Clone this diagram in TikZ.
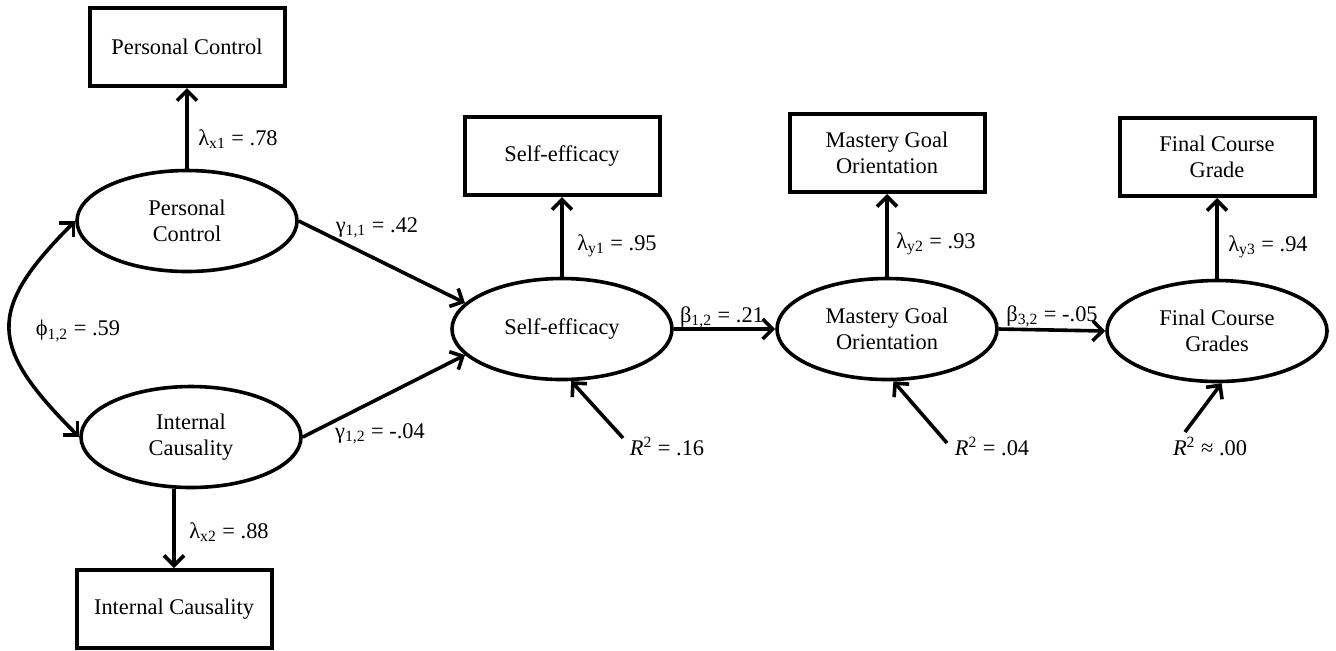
\documentclass[tikz,border=0pt]{standalone}
\usepackage{fontspec}
\setmainfont{Liberation Serif}
\usetikzlibrary{arrows.meta,shapes.geometric}

\begin{document}
\begin{tikzpicture}[x=0.5pt, y=-0.5pt,
    font=\fontsize{11.2}{13.2}\selectfont,
    latent/.style={draw, line width=1.8pt, ellipse, minimum width=110pt, minimum height=50.5pt, inner sep=0pt, align=center},
    observed/.style={draw, line width=2pt, rectangle, minimum width=97.5pt, minimum height=39pt, inner sep=0pt, align=center},
    link/.style={line width=1.8pt, -{Straight Barb[length=5pt,width=10pt]}}]
    \useasboundingbox (0,0) rectangle (1336,650);

    % latent variables
    \node[latent] (pc)  at (187,221)  {Personal\\Control};
    \node[latent] (ic)  at (191,437)  {Internal\\Causality};
    \node[latent] (se)  at (562,329)  {Self-efficacy};
    \node[latent] (mgo) at (887,329)  {Mastery Goal\\Orientation};
    \node[latent] (fcg) at (1217,331) {Final Course\\Grades};

    % indicators
    \node[observed] (pcbox)  at (187,47)   {Personal Control};
    \node[observed] (icbox)  at (174,609)  {Internal Causality};
    \node[observed] (sebox)  at (562,156)  {Self-efficacy};
    \node[observed] (mgobox) at (887,153)  {Mastery Goal\\Orientation};
    \node[observed] (fcgbox) at (1217,157) {Final Course\\Grade};

    % free ends of the residual arrows
    \coordinate (rse)  at (623,438);
    \coordinate (rmgo) at (947,443);
    \coordinate (rfcg) at (1185,432);

    \draw[link] (pc.north) -- (pcbox.south);
    \draw[link] (ic.south -| icbox.north) -- (icbox.north);
    \draw[link] (se.north) -- (sebox.south);
    \draw[link] (mgo.north) -- (mgobox.south);
    \draw[link] (fcg.north) -- (fcgbox.south);

    \draw[link] (pc.east) -- (se.165);
    \draw[link] (ic.east) -- (se.195);
    \draw[link] (se.east) -- (mgo.west);
    \draw[link] (mgo.east) -- (fcg.west);

    \draw[link] (rse)  -- (se.-80);
    \draw[link] (rmgo) -- (mgo.-83);
    \draw[link] (rfcg) -- (fcg.-85);

    \draw[link, {Straight Barb[length=5pt,width=10pt]}-{Straight Barb[length=5pt,width=10pt]}]
        (pc.west) .. controls +(-90,90) and +(-90,-90) .. (ic.west);

    % coefficients
    \node (lx1) at (238,139)  {λ\textsubscript{x1} = .78};
    \node (lx2) at (229,532)  {λ\textsubscript{x2} = .88};
    \node (phi) at (78,331)   {ϕ\textsubscript{1,2} = .59};
    \node (g11) at (377,228)  {γ\textsubscript{1,1} = .42};
    \node (g12) at (380,434)  {γ\textsubscript{1,2} = -.04};
    \node (ly1) at (617,246)  {λ\textsubscript{y1} = .95};
    \node (b12) at (722,317)  {β\textsubscript{1,2} = .21};
    \node (ly2) at (936,244)  {λ\textsubscript{y2} = .93};
    \node (b32) at (1052,316) {β\textsubscript{3,2} = -.05};
    \node (ly3) at (1268,247) {λ\textsubscript{y3} = .94};
    \node (rsq1) at (667,446)  {\textit{R}\textsuperscript{2} = .16};
    \node (rsq2) at (992,446)  {\textit{R}\textsuperscript{2} = .04};
    \node (rsq3) at (1210,446) {\textit{R}\textsuperscript{2} ≈ .00};
\end{tikzpicture}
\end{document}
